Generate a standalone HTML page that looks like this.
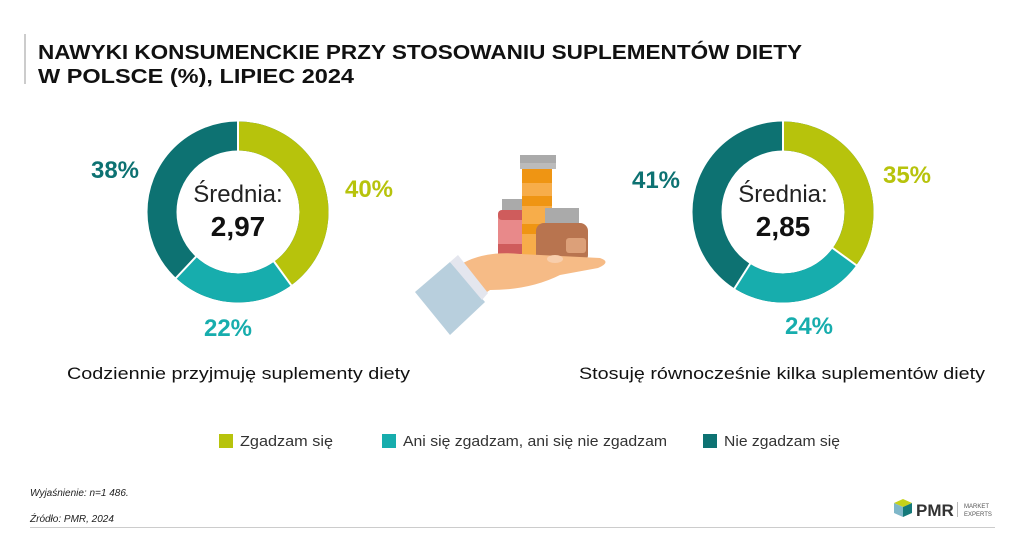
<!DOCTYPE html>
<html><head><meta charset="utf-8"><style>
body{margin:0;width:1024px;height:536px;background:#fff;overflow:hidden}
svg{display:block}
text{font-family:"Liberation Sans",sans-serif}
</style></head><body>
<svg width="1024" height="536" viewBox="0 0 1024 536">
<rect x="24" y="34" width="2" height="50" fill="#ccc"/>
<text x="38" y="59" font-size="20" font-weight="bold" fill="#111" textLength="764" lengthAdjust="spacingAndGlyphs">NAWYKI KONSUMENCKIE PRZY STOSOWANIU SUPLEMENTÓW DIETY</text>
<text x="38" y="83" font-size="20" font-weight="bold" fill="#111" textLength="316" lengthAdjust="spacingAndGlyphs">W POLSCE (%), LIPIEC 2024</text>

<!-- left donut -->
<g transform="translate(238,212) rotate(-90)">
<circle r="76" fill="none" stroke="#0d7272" stroke-width="29"/>
<circle r="76" fill="none" stroke="#b7c30c" stroke-width="29" stroke-dasharray="191 1000"/>
<circle r="76" fill="none" stroke="#17adad" stroke-width="29" stroke-dasharray="0 191 105 1000"/>
<g stroke="#fff" stroke-width="2"><line x1="61" y1="0" x2="92" y2="0"/><line x1="61" y1="0" x2="92" y2="0" transform="rotate(144)"/><line x1="61" y1="0" x2="92" y2="0" transform="rotate(223.2)"/></g>
</g>
<text x="238" y="202" font-size="24" text-anchor="middle" fill="#222">Średnia:</text>
<text x="238" y="236" font-size="28" font-weight="bold" text-anchor="middle" fill="#111">2,97</text>
<text x="115" y="178" font-size="24" font-weight="bold" text-anchor="middle" fill="#0d7272">38%</text>
<text x="369" y="197" font-size="24" font-weight="bold" text-anchor="middle" fill="#b7c30c">40%</text>
<text x="228" y="336" font-size="24" font-weight="bold" text-anchor="middle" fill="#17adad">22%</text>
<text x="67" y="379" font-size="17" fill="#111" textLength="343" lengthAdjust="spacingAndGlyphs">Codziennie przyjmuję suplementy diety</text>

<!-- right donut -->
<g transform="translate(783,212) rotate(-90)">
<circle r="76" fill="none" stroke="#0d7272" stroke-width="29"/>
<circle r="76" fill="none" stroke="#b7c30c" stroke-width="29" stroke-dasharray="167 1000"/>
<circle r="76" fill="none" stroke="#17adad" stroke-width="29" stroke-dasharray="0 167 115 1000"/>
<g stroke="#fff" stroke-width="2"><line x1="61" y1="0" x2="92" y2="0"/><line x1="61" y1="0" x2="92" y2="0" transform="rotate(126)"/><line x1="61" y1="0" x2="92" y2="0" transform="rotate(212.4)"/></g>
</g>
<text x="783" y="202" font-size="24" text-anchor="middle" fill="#222">Średnia:</text>
<text x="783" y="236" font-size="28" font-weight="bold" text-anchor="middle" fill="#111">2,85</text>
<text x="656" y="188" font-size="24" font-weight="bold" text-anchor="middle" fill="#0d7272">41%</text>
<text x="907" y="183" font-size="24" font-weight="bold" text-anchor="middle" fill="#b7c30c">35%</text>
<text x="809" y="334" font-size="24" font-weight="bold" text-anchor="middle" fill="#17adad">24%</text>
<text x="579" y="379" font-size="17" fill="#111" textLength="406" lengthAdjust="spacingAndGlyphs">Stosuję równocześnie kilka suplementów diety</text>

<!-- illustration -->
<g>
<rect x="498" y="210" width="30" height="44" rx="5" fill="#e8898a"/>
<rect x="498" y="210" width="30" height="10" rx="4" fill="#cf5c5c"/>
<rect x="498" y="244" width="30" height="10" fill="#cf5c5c"/>
<rect x="502" y="199" width="22" height="11" fill="#aaa"/>
<rect x="522" y="169" width="30" height="90" fill="#f7ad4a"/>
<rect x="522" y="169" width="30" height="14" fill="#ef9513"/>
<rect x="522" y="196" width="30" height="10" fill="#ef9513"/>
<rect x="522" y="224" width="30" height="10" fill="#ef9513"/>
<rect x="520" y="155" width="36" height="8" fill="#aaa"/>
<rect x="520" y="163" width="36" height="6" fill="#bbb"/>
<rect x="536" y="223" width="52" height="40" rx="8" fill="#b8744f"/>
<rect x="566" y="238" width="20" height="15" rx="3" fill="#dca079"/>
<rect x="545" y="208" width="34" height="15" fill="#aaa"/>
<path d="M455 268 Q480 250 520 254 L600 258 Q612 262 598 268 L560 275 Q530 290 490 290 L475 300 Z" fill="#f6bb86"/>
<ellipse cx="555" cy="259" rx="8" ry="4" fill="#f8ceac"/>
<path d="M415 292 L450 262 L485 302 L450 335 Z" fill="#b8cfdd"/>
<path d="M450 262 L458 255 L488 293 L482 300 Z" fill="#e4e6ee"/>
</g>

<!-- legend -->
<rect x="219" y="434" width="14" height="14" fill="#b7c30c"/>
<text x="240" y="446" font-size="15" fill="#333" textLength="93" lengthAdjust="spacingAndGlyphs">Zgadzam się</text>
<rect x="382" y="434" width="14" height="14" fill="#17adad"/>
<text x="403" y="446" font-size="15" fill="#333" textLength="264" lengthAdjust="spacingAndGlyphs">Ani się zgadzam, ani się nie zgadzam</text>
<rect x="703" y="434" width="14" height="14" fill="#0d7272"/>
<text x="724" y="446" font-size="15" fill="#333" textLength="116" lengthAdjust="spacingAndGlyphs">Nie zgadzam się</text>

<text x="30" y="496" font-size="10" font-style="italic" fill="#222">Wyjaśnienie: n=1 486.</text>
<text x="30" y="522" font-size="10" font-style="italic" fill="#222">Źródło: PMR, 2024</text>
<rect x="30" y="527" width="965" height="1" fill="#ccc"/>

<!-- logo -->
<path d="M894 503 L903 499 L912 503 L903 507 Z" fill="#c5d21a"/>
<path d="M894 503 L903 507 L903 517 L894 513 Z" fill="#7fb7c9"/>
<path d="M903 507 L912 503 L912 513 L903 517 Z" fill="#157a7a"/>
<text x="916" y="516" font-size="17" font-weight="bold" fill="#333">PMR</text>
<rect x="957" y="502" width="1" height="15" fill="#bbb"/>
<text x="964" y="508" font-size="6" fill="#555">MARKET</text>
<text x="964" y="516" font-size="6" fill="#555">EXPERTS</text>
</svg>
</body></html>
